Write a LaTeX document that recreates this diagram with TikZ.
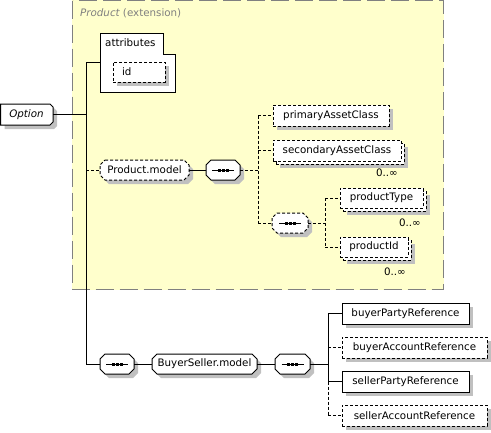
\documentclass[tikz,border=0pt]{standalone}
\usepackage{fontspec}
\setmainfont{DejaVu Sans}
\usetikzlibrary{shadows}
\definecolor{shadowgray}{RGB}{192,192,192}
\definecolor{ybg}{RGB}{255,255,204}
\definecolor{ygray}{RGB}{128,128,128}
\tikzset{
  every node/.style={font=\fontsize{10.3}{12}\selectfont, inner sep=0pt},
  elem/.style={draw, fill=white, line width=1pt, minimum height=21pt,
    drop shadow={shadow xshift=4pt, shadow yshift=-4pt, fill=shadowgray, opacity=1}},
  plainbox/.style={draw, fill=white, line width=1pt, minimum height=21pt},
  optl/.style={dash pattern=on 3pt off 2pt},
  conn/.style={line width=1pt},
  oconn/.style={line width=1pt, dash pattern=on 3pt off 2pt},
  mult/.style={anchor=east},
}
\newcommand\octpath[5]{({#1+#5},{#2}) -- ({#3-#5},{#2}) -- ({#3},{#2+#5}) -- ({#3},{#4-#5}) -- ({#3-#5},{#4}) -- ({#1+#5},{#4}) -- ({#1},{#4-#5}) -- ({#1},{#2+#5}) -- cycle}
\newcommand\octbox[8]{%
  \fill[shadowgray] \octpath{#2+4}{#3+4}{#4+4}{#5+4}{#6};
  \filldraw[fill=white, line width=1pt, #7] \octpath{#2}{#3}{#4}{#5}{#6};
  \node[minimum width={#4-#2}, minimum height={#5-#3}] (#1) at ({(#2+#4)/2},{(#3+#5)/2}) {#8};
}
\newcommand\seqicon[1]{%
  \draw[line width=1pt] ([xshift=-11pt]#1.center) -- ([xshift=11pt]#1.center);
  \foreach \d in {-4,0,4} \fill ([xshift={(\d-1.5)*1pt}, yshift=-1.5pt]#1.center) rectangle +(3pt,3pt);
}
\begin{document}
\begin{tikzpicture}[x=1pt,y=-1pt]
\useasboundingbox (0,0) rectangle (491,432);
% extension region
\fill[ybg] (72,0) rectangle (444,290);
\draw[ygray, line width=1pt, dash pattern=on 18pt off 6pt] (72.5,0.5) rectangle (443.5,289.5);
\node[anchor=west, text=ygray] (ext) at (80,13) {\itshape Product\upshape{} (extension)};
% Option
\fill[shadowgray] (4.5,108) -- (54,108) -- (57,111) -- (57,126) -- (54,129) -- (4.5,129) -- cycle;
\filldraw[fill=white, line width=1pt] (0.5,104) -- (50,104) -- (53,107) -- (53,122) -- (50,125) -- (0.5,125) -- cycle;
\node[minimum width=52.5pt, minimum height=21pt] (option) at (26.5,114.5) {\itshape Option};
% attributes
\filldraw[fill=white, line width=1pt] (100,33) -- (163,33) -- (163,54) -- (175,54) -- (175,92) -- (100,92) -- cycle;
\node[minimum width=75pt, minimum height=59pt] (attr) at (137.5,62.5) {};
\node[anchor=west] (attrlabel) at (105,43) {attributes};
\node[elem, optl, minimum height=20pt, text width=34pt, inner xsep=9pt, align=left] (id) at (139,72) {id};
% Product.model group
\octbox{pmodel}{100}{160}{189}{180}{5}{optl}{Product.model}
\octbox{seq1}{206}{160}{240}{180}{5}{}{}
\seqicon{seq1}
\node[elem, optl, minimum width=116pt] (pac) at (331,115.5) {primaryAssetClass};
\node[elem, optl, minimum width=128pt] (sacb) at (340,153.5) {};
\node[plainbox, optl, minimum width=128pt] (sac) at (337,150.5) {secondaryAssetClass};
\node[mult] (m1) at (398,173) {0..∞};
\octbox{seq2}{272}{213}{308}{233}{5}{optl}{}
\seqicon{seq2}
\node[elem, optl, minimum width=83pt, minimum height=20pt] (ptypeb) at (384.5,201) {};
\node[plainbox, optl, minimum width=83pt, minimum height=20pt] (ptype) at (381.5,198) {productType};
\node[mult] (m2) at (421,223) {0..∞};
\node[elem, optl, minimum width=68pt, minimum height=20pt] (pidb) at (377,250) {};
\node[plainbox, optl, minimum width=68pt, minimum height=20pt] (pid) at (374,247) {productId};
\node[mult] (m3) at (406,272) {0..∞};
% BuyerSeller
\octbox{seq3}{100}{354}{134}{374}{5}{}{}
\seqicon{seq3}
\octbox{bsm}{152}{354}{257}{374}{5}{}{BuyerSeller.model}
\octbox{seq4}{275}{354}{310}{374}{5}{}{}
\seqicon{seq4}
\node[elem, minimum width=127pt] (bpr) at (405.5,313.5) {buyerPartyReference};
\node[elem, optl, minimum width=145pt] (bar) at (414.5,347.5) {buyerAccountReference};
\node[elem, minimum width=127pt] (spr) at (405.5,381.5) {sellerPartyReference};
\node[elem, optl, minimum width=145pt] (sar) at (414.5,415.5) {sellerAccountReference};
% junction coordinates
\coordinate (j1a) at (86,62);
\coordinate (j1b) at (86,364);
\coordinate (j2a) at (258,115.5);
\coordinate (j2b) at (258,223);
\coordinate (j3a) at (325,198);
\coordinate (j3b) at (325,247);
\coordinate (j4a) at (328,313.5);
\coordinate (j4c) at (328,381.5);
\coordinate (j4d) at (328,415.5);
% connectors
\draw[conn] (option.east) -- (option.east -| j1a);
\draw[conn] (j1a) -- (j1b);
\draw[conn] (j1a) -- (j1a -| attr.west);
\draw[oconn] (pmodel.west -| j1a) -- (pmodel.west);
\draw[conn] (j1b) -- (seq3.west);
\draw[conn] (pmodel.east) -- (seq1.west);
\draw[oconn] (seq1.east) -- (seq1.east -| j2a);
\draw[oconn] (j2a) -- (j2b);
\draw[oconn] (j2a) -- (pac.west);
\draw[oconn] (sac.west -| j2a) -- (sac.west);
\draw[oconn] (j2b) -- (seq2.west);
\draw[oconn] (seq2.east) -- (seq2.east -| j3a);
\draw[oconn] (j3a) -- (j3b);
\draw[oconn] (j3a) -- (ptype.west);
\draw[oconn] (j3b) -- (pid.west);
\draw[conn] (seq3.east) -- (bsm.west);
\draw[conn] (bsm.east) -- (seq4.west);
\draw[conn] (seq4.east) -- (seq4.east -| j4a);
\draw[conn] (j4a) -- (j4c);
\draw[oconn] (j4c) -- (j4d);
\draw[conn] (j4a) -- (bpr.west);
\draw[oconn] (bar.west -| j4a) -- (bar.west);
\draw[conn] (j4c) -- (spr.west);
\draw[oconn] (j4d) -- (sar.west);
\end{tikzpicture}
\end{document}
